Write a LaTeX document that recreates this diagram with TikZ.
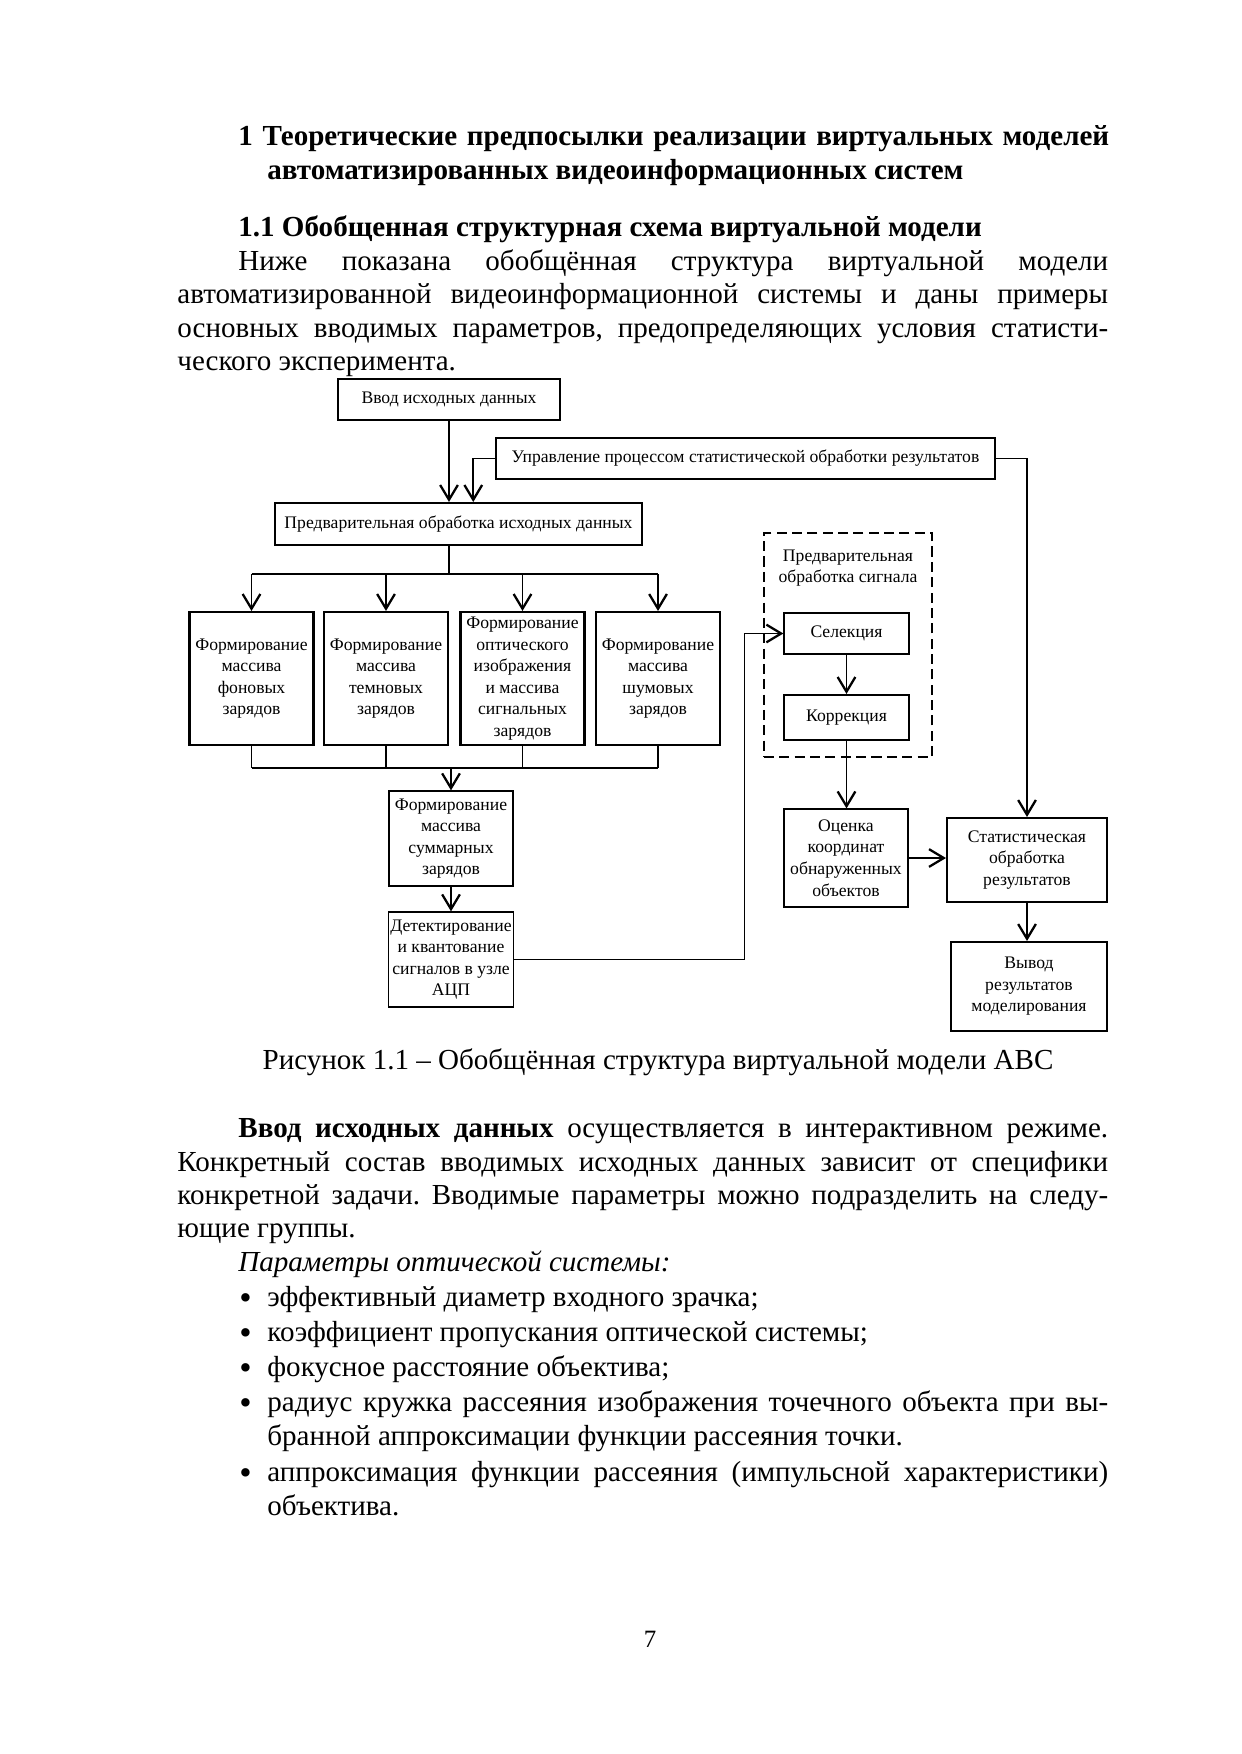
\documentclass[tikz,border=0pt]{standalone}
\usepackage{fontspec}
\setmainfont{Liberation Serif}
\usetikzlibrary{shapes,arrows.meta,positioning,calc}
\frenchspacing
\newcommand{\blt}{\makebox[0.474cm][l]{\raisebox{-1.6pt}{\fontsize{17}{16}\selectfont•}}}

\begin{document}
\begin{tikzpicture}[x=0.0169333cm, y=-0.0169333cm,
  >={Straight Barb[length=2.5mm,width=3mm,line width=1.1pt]},
  blk/.style={rectangle, draw, line width=1pt, inner sep=1pt, align=center, font=\fontsize{8.5}{10.4}\selectfont},
  col/.style={minimum width=2.1cm, minimum height=2.252cm},
  wire/.style={line width=0.95pt},
  thinwire/.style={line width=0.6pt},
  txt/.style={anchor=base west, inner sep=0pt, font=\fontsize{14}{16}\selectfont},
  hdr/.style={anchor=base west, inner sep=0pt, font=\fontsize{14}{16}\selectfont\bfseries}]
\useasboundingbox[fill=white] (0,0) rectangle (1241,1754);

% headings and first paragraph
\node[hdr] (h1a) at (238,145) {\makebox[14.749cm][s]{1 Теоретические предпосылки реализации виртуальных моделей}};
\node[hdr] (h1b) at (267,179) {автоматизированных видеоинформационных систем};
\node[hdr] (s11) at (238,236) {1.1 Обобщенная структурная схема виртуальной модели};
\node[txt] (p1a) at (238,270) {\makebox[14.732cm][s]{Ниже показана обобщённая структура виртуальной модели}};
\node[txt] (p1b) at (177,303) {\makebox[15.765cm][s]{автоматизированной видеоинформационной системы и даны примеры}};
\node[txt] (p1c) at (177,337) {\makebox[15.765cm][s]{основных вводимых параметров, предопределяющих условия статисти-}};
\node[txt] (p1d) at (177,370) {ческого эксперимента.};

% diagram
\node[blk, minimum width=3.759cm, minimum height=0.694cm] (vvod) at (449,399.5) {Ввод исходных данных};
\node[blk, minimum width=8.45cm, minimum height=0.694cm] (upr) at (745.5,458.5) {Управление процессом статистической обработки результатов};
\node[blk, minimum width=6.215cm, minimum height=0.711cm] (pred) at (458.5,524) {Предварительная обработка исходных данных};
\node[blk, col] (fon) at (251.5,678.5) {Формирование\\массива\\фоновых\\зарядов};
\node[blk, col] (temn) at (386,678.5) {Формирование\\массива\\темновых\\зарядов};
\node[blk, col] (opt) at (522.5,678.5) {Формирование\\оптического\\изображения\\и массива\\сигнальных\\зарядов};
\node[blk, col] (shum) at (658,678.5) {Формирование\\массива\\шумовых\\зарядов};
\node[blk, thinwire, minimum width=2.1cm, minimum height=1.609cm] (summ) at (451,838.5) {Формирование\\массива\\суммарных\\зарядов};
\node[blk, thinwire, minimum width=2.1cm, minimum height=1.609cm] (det) at (451,959.5) {Детектирование\\и квантование\\сигналов в узле\\АЦП};

\node[draw, thinwire, dash pattern=on 1.7mm off 0.9mm, minimum width=2.845cm, minimum height=3.793cm] (grp) at (848,645) {};
\node[align=center, inner sep=0pt, font=\fontsize{8.5}{10.4}\selectfont] (grplbl) at (848,568) {Предварительная\\обработка сигнала};
\node[blk, thinwire, minimum width=2.117cm, minimum height=0.694cm] (sel) at (846.5,633.5) {Селекция};
\node[blk, minimum width=2.117cm, minimum height=0.762cm] (korr) at (846.5,717.5) {Коррекция};
\node[blk, thinwire, minimum width=2.1cm, minimum height=1.659cm] (ocen) at (846,858) {Оценка\\координат\\обнаруженных\\объектов};
\node[blk, minimum width=2.709cm, minimum height=1.422cm] (stat) at (1027,860) {Статистическая\\обработка\\результатов};
\node[blk, minimum width=2.642cm, minimum height=1.507cm] (vyvod) at (1029,986.5) {Вывод\\результатов\\моделирования};

\coordinate (fork) at (449,574);
\coordinate (join) at (451,768);
\draw[wire,->] (vvod.south) -- (vvod.south |- pred.north);
\draw[wire,->] (upr.west) -| ([xshift=0.25cm]pred.north);
\draw[wire,->] (upr.east) -| (stat.north);
\draw[wire] (vvod.south |- pred.south) -- (fork);
\draw[wire] (fon.north |- fork) -- (shum.north |- fork);
\foreach \b in {fon,temn,opt,shum}
  \draw[wire,->] (\b.north |- fork) -- (\b.north);
\foreach \b in {fon,temn,opt,shum}
  \draw[thinwire] (\b.south) -- (\b.south |- join);
\draw[wire] (fon.south |- join) -- (shum.south |- join);
\draw[wire,->] (join) -- (summ.north);
\draw[wire,->] (summ) -- (det);
\draw[thinwire,->] (det.east) -| ([xshift=-0.66cm]sel.west) -- (sel.west);
\draw[wire,->] (sel) -- (korr);
\draw[wire,->] (korr.south) -- (korr.south |- ocen.north);
\draw[wire,->] (ocen.east) -- (ocen.east -| stat.west);
\draw[wire,->] (stat.south) -- (stat.south |- vyvod.north);

\node[anchor=base, inner sep=0pt, font=\fontsize{14}{16}\selectfont] (cap) at (658,1069) {Рисунок 1.1 – Обобщённая структура виртуальной модели АВС};

% second paragraph
\node[txt] (p2a) at (238,1137) {\makebox[14.732cm][s]{\textbf{Ввод исходных данных} осуществляется в интерактивном режиме.}};
\node[txt] (p2b) at (177,1171) {\makebox[15.765cm][s]{Конкретный состав вводимых исходных данных зависит от специфики}};
\node[txt] (p2c) at (177,1204) {\makebox[15.765cm][s]{конкретной задачи. Вводимые параметры можно подразделить на следу-}};
\node[txt] (p2d) at (177,1237) {ющие группы.};
\node[txt] (par) at (238,1271) {\textit{Параметры оптической системы:}};
\node[txt] (it1) at (239,1306) {\blt эффективный диаметр входного зрачка;};
\node[txt] (it2) at (239,1341) {\blt коэффициент пропускания оптической системы;};
\node[txt] (it3) at (239,1376) {\blt фокусное расстояние объектива;};
\node[txt] (it4a) at (239,1411) {\blt\makebox[14.241cm][s]{радиус кружка рассеяния изображения точечного объекта при вы-}};
\node[txt] (it4b) at (267,1445) {бранной аппроксимации функции рассеяния точки.};
\node[txt] (it5a) at (239,1481) {\blt\makebox[14.241cm][s]{аппроксимация функции рассеяния (импульсной характеристики)}};
\node[txt] (it5b) at (267,1515) {объектива.};

\node[anchor=base, inner sep=0pt, font=\fontsize{12}{14}\selectfont] (pg) at (650,1647) {7};
\end{tikzpicture}
\end{document}
